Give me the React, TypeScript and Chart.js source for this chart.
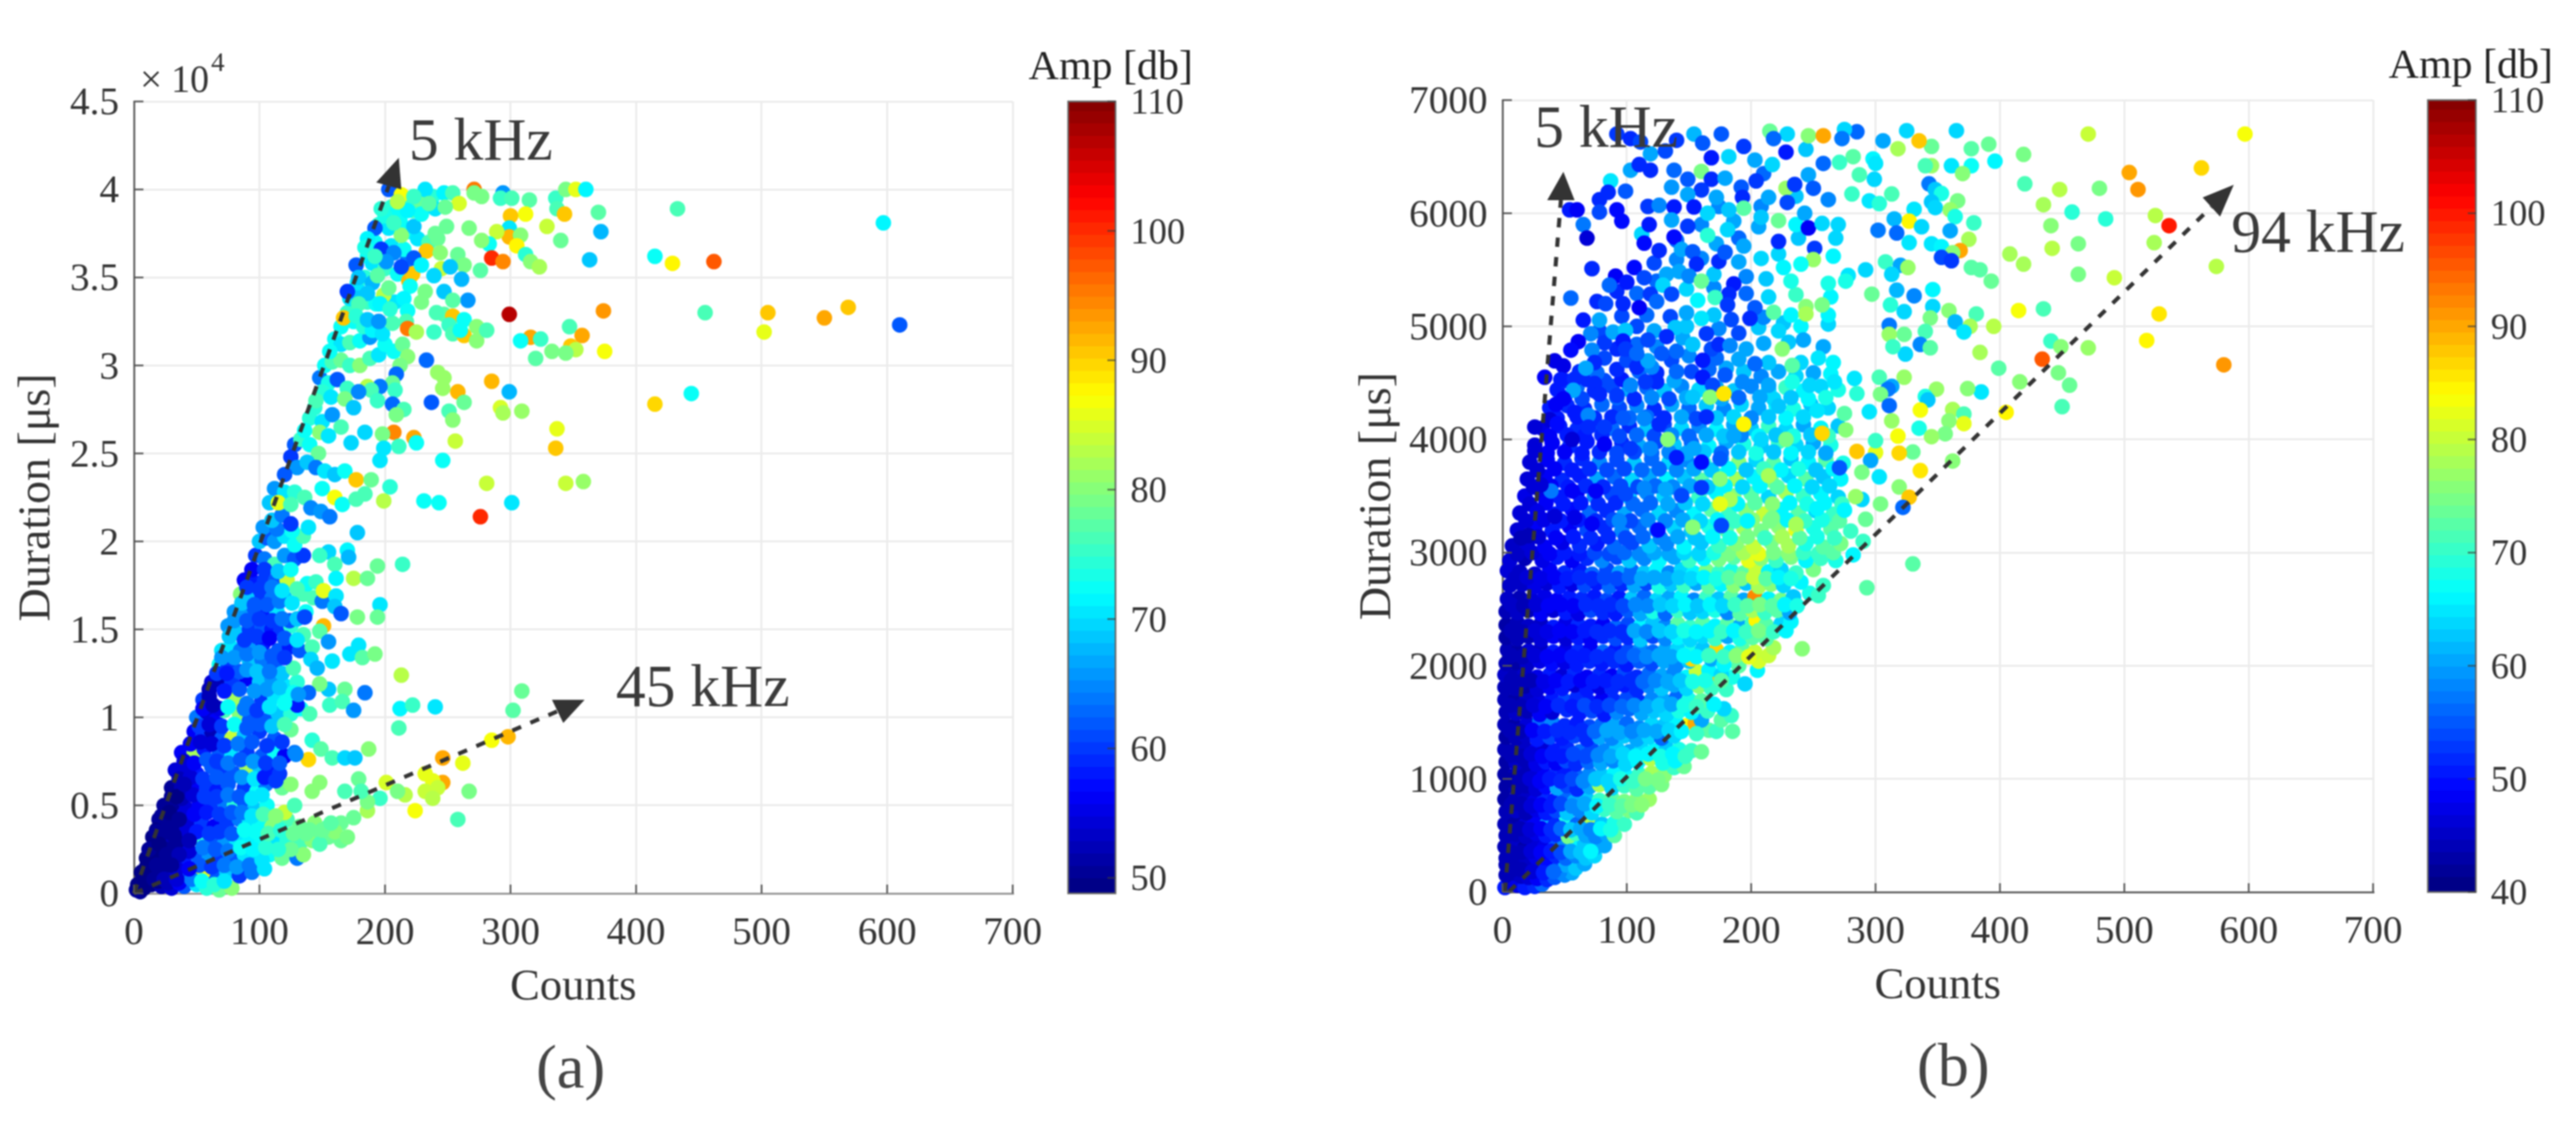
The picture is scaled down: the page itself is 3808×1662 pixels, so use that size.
import React, { useEffect, useRef } from "react";
import { Chart, registerables } from "chart.js";

Chart.register(...registerables);

// Every list below holds counts, duration, amplitude triples.
// Panel (a): duration in units of 10^4 microseconds, amplitude in dB.
const coreA = [
2,.02,50,5,.01,50,3,.05,49,8,.03,49,14,.05,49,22,.04,52,30,.03,54,40,.04,62,50,.05,70,58,.03,74,68,.02,78,78,.03,80,
6,.12,49,12,.1,49,20,.12,50,28,.1,54,38,.12,60,46,.14,66,64,.1,62,74,.12,68,84,.1,60,94,.12,64,104,.14,70,
10,.2,49,16,.22,49,24,.2,50,32,.18,52,40,.2,58,50,.22,62,60,.2,66,68,.22,60,78,.2,62,88,.22,70,98,.2,68,108,.22,72,118,.2,78,130,.2,64,
15,.32,49,22,.3,50,30,.28,52,38,.3,50,46,.32,56,54,.3,74,64,.3,62,72,.28,66,82,.3,70,92,.3,71,102,.3,72,112,.32,70,122,.3,74,132,.28,76,142,.3,80,155,.32,78,165,.3,78,
20,.42,50,28,.4,50,35,.38,50,44,.42,54,54,.4,60,64,.38,56,74,.4,60,84,.42,64,92,.42,70,100,.4,72,110,.38,80,122,.42,76,132,.38,78,144,.4,80,155,.38,76,165,.4,78,
24,.5,50,32,.5,50,42,.48,54,52,.5,56,62,.52,60,72,.52,64,80,.5,74,88,.52,62,96,.48,68,106,.5,72,120,.46,84,128,.5,76,
30,.6,50,38,.6,52,48,.62,56,58,.6,60,66,.58,58,75,.62,62,88,.6,60,98,.58,72,105,.62,64,118,.6,78,125,.62,80,
33,.7,54,40,.7,54,50,.68,58,62,.72,62,72,.7,60,80,.68,62,90,.72,82,100,.72,68,108,.7,58,116,.68,60,
38,.8,56,48,.8,82,56,.82,58,68,.8,62,78,.78,70,90,.8,60,102,.78,62,112,.8,72,120,.78,56,128,.8,64,
48,.92,56,55,.9,60,62,.92,52,70,.88,62,78,.88,84,88,.9,68,100,.92,60,112,.88,62,125,.93,78,
50,1,64,58,1.03,54,65,.98,56,72,1.04,76,84,1.02,80,92,.98,62,105,.98,62,115,1.02,68,125,1.02,74,133,1.05,72,140,1.02,76,
55,1.1,60,60,1.12,52,68,1.05,55,80,1.1,82,90,1.08,64,102,1.1,60,112,1.12,70,122,1.14,72,130,1.07,58,
62,1.2,54,68,1.22,52,78,1.2,60,90,1.22,56,100,1.2,68,110,1.22,66,120,1.18,70,130,1.2,74,
68,1.3,72,75,1.3,60,84,1.26,62,92,1.32,68,102,1.33,64,112,1.3,62,118,1.25,68,127,1.28,76,
70,1.38,70,77,1.4,70,85,1.38,64,93,1.42,66,103,1.42,58,115,1.38,62,124,1.4,58,132,1.38,62,142,1.4,76,
75,1.52,66,82,1.48,68,92,1.5,60,102,1.52,62,110,1.5,58,117,1.5,60,125,1.52,74,135,1.47,76,
80,1.6,66,88,1.6,66,96,1.62,62,106,1.58,58,114,1.6,70,124,1.55,62,137,1.6,72,
85,1.7,80,92,1.68,68,102,1.7,60,110,1.68,64,120,1.68,68,135,1.7,76,143,1.68,76,150,1.66,64,
88,1.78,56,95,1.77,58,104,1.78,60,113,1.78,62,122,1.78,84,138,1.76,72,145,1.77,75,
97,1.92,60,104,1.9,64,112,1.87,76,120,1.92,66,128,1.9,62,135,1.92,60,
100,2,68,106,2.02,62,112,2,66,120,2.03,70,128,1.98,72,135,2.03,76,
140,.36,78,150,.33,78,160,.35,80,148,.28,76,135,.22,80,125,.25,78,55,.12,86,
];
const fillA = [
9,.07,49,19,.07,49,27,.06,52,36,.06,56,46,.08,64,54,.07,72,64,.05,74,72,.07,70,
14,.15,49,23,.15,50,34,.14,54,52,.16,62,62,.15,60,72,.16,64,82,.15,66,92,.16,64,102,.19,70,
20,.24,49,28,.25,50,35,.26,50,44,.24,54,55,.26,64,65,.25,62,75,.24,64,85,.26,72,95,.25,71,105,.26,74,115,.25,74,
18,.36,49,25,.36,50,33,.35,50,42,.36,54,50,.35,58,60,.34,60,68,.35,60,78,.34,62,88,.36,72,97,.35,72,107,.34,76,117,.36,74,127,.34,78,137,.34,78,150,.36,78,
25,.45,50,33,.44,50,40,.45,54,48,.45,56,58,.46,58,68,.45,60,78,.46,62,86,.46,64,94,.44,70,103,.45,76,113,.44,80,
30,.55,50,38,.54,52,47,.56,54,56,.55,60,66,.55,60,75,.56,64,84,.55,62,94,.54,70,102,.56,70,
36,.65,52,45,.66,54,55,.65,60,66,.66,62,76,.65,62,86,.66,66,96,.65,70,104,.66,58,113,.64,60,
40,.75,54,48,.74,56,58,.76,62,66,.75,60,75,.74,64,85,.76,62,95,.75,66,105,.74,60,116,.74,62,
45,.85,56,53,.86,54,62,.85,54,72,.84,60,83,.85,64,94,.86,62,106,.84,60,118,.86,60,
52,.95,60,60,.96,54,70,.95,60,80,.96,72,90,.94,62,100,.96,62,110,.95,68,120,.96,76,
55,1.05,56,63,1.07,52,75,1.06,72,88,1.05,64,98,1.04,60,108,1.06,70,120,1.08,72,
60,1.16,52,72,1.15,58,84,1.16,62,96,1.15,66,106,1.16,66,116,1.17,68,127,1.14,72,
66,1.25,60,74,1.25,58,90,1.27,66,98,1.26,68,108,1.26,64,
70,1.34,66,80,1.34,66,90,1.36,64,100,1.37,66,110,1.35,62,120,1.34,60,
76,1.46,68,88,1.44,60,98,1.46,60,108,1.45,56,120,1.45,62,130,1.44,70,
80,1.55,66,90,1.55,62,100,1.56,60,110,1.55,60,118,1.56,64,130,1.56,68,
86,1.65,68,96,1.64,62,106,1.64,62,116,1.66,64,126,1.65,70,
90,1.74,60,100,1.73,60,110,1.74,64,118,1.72,70,130,1.73,76,
94,1.84,56,104,1.84,60,115,1.83,68,125,1.84,72,
103,2.08,66,114,2.07,64,126,2.06,72,
12,.25,50,18,.35,50,10,.15,49,26,.35,50,22,.44,50,34,.55,49,40,.62,52,28,.46,49,36,.42,50,32,.33,50,20,.28,49,18,.16,50,26,.22,50,44,.3,52,36,.22,52,44,.14,56,30,.16,50,16,.08,50,24,.08,52,34,.08,54,
];
const ridgeA = [
112,2.3,66,120,2.28,70,128,2.28,74,136,2.25,76,150,2.3,72,110,2.12,68,118,2.15,64,125,2.1,60,116,2.22,70,108,2.22,68,
128,2.55,62,133,2.58,75,140,2.55,72,147,2.5,78,125,2.48,60,130,2.42,66,138,2.45,68,145,2.42,64,152,2.4,70,160,2.38,68,168,2.4,72,177,2.35,90,120,2.38,62,
140,2.7,74,150,2.68,70,158,2.72,66,165,2.65,76,148,2.62,80,155,2.6,70,136,2.63,72,144,2.76,74,
148,2.93,64,155,2.9,73,162,2.92,62,170,2.87,75,150,2.85,74,145,2.8,76,157,2.82,70,
152,3,72,158,3.02,76,165,3.03,78,172,3,75,180,3,80,188,3.04,76,195,3.06,70,207,3.08,72,214,3.12,78,218,3.05,80,212,3,79,
160,3.15,72,165,3.12,70,172,3.13,76,180,3.14,72,188,3.16,66,156,3.08,72,200,3.12,72,
170,3.3,75,175,3.25,72,183,3.22,74,190,3.2,71,198,3.18,70,165,3.22,72,206,3.24,76,
172,3.38,70,178,3.4,68,186,3.36,75,193,3.35,72,208,3.36,70,178,3.47,70,184,3.5,74,
186,3.62,72,190,3.58,70,200,3.55,75,210,3.52,72,218,3.6,64,192,3.7,72,205,3.68,70,215,3.66,72,
195,3.8,74,203,3.78,70,212,3.82,72,220,3.76,72,226,3.72,70,235,3.7,76,242,3.72,78,
205,3.9,74,210,3.88,72,215,3.92,75,222,3.88,76,200,3.85,73,228,3.94,78,238,3.96,74,
];
const upperA = [
203,4,62,213,3.97,87,232,4,70,247,3.98,71,254,3.98,76,271,4,95,271,3.98,79,277,3.96,79,294,3.98,66,292,3.95,75,301,3.95,76,315,3.94,77,336,3.95,75,344,4,79,352,4,86,360,4,71,337,3.89,76,370,3.87,77,372,3.76,67,343,3.86,90,312,3.86,87,300,3.85,90,329,3.79,84,299,3.78,70,299,3.73,91,289,3.76,84,308,3.74,80,340,3.71,78,283,3.69,72,277,3.71,80,305,3.68,88,312,3.63,74,316,3.59,80,323,3.56,82,285,3.61,100,294,3.59,94,276,3.54,77,363,3.6,68,415,3.62,72,429,3.58,88,433,3.89,76,267,3.78,79,249,3.79,78,240,3.75,78,259,3.92,85,233,3.65,90,244,3.64,80,258,3.63,78,263,3.57,79,245,3.55,84,252,3.56,68,261,3.49,67,239,3.51,69,247,3.42,68,266,3.37,66,254,3.37,77,232,3.42,79,229,3.36,79,219,3.48,91,222,3.52,90,220,3.45,72,213,3.56,61,197,3.66,60,207,3.64,65,201,3.59,66,223,3.61,62,229,3.57,71,213,3.74,80,192,3.78,62,197,3.89,74,207,3.81,75,223,3.79,68,229,3.86,72,218,3.88,71,240,3.89,70,235,3.92,77,223,3.96,75,248,3.9,78,210,3.93,83,186,3.72,71,184,3.67,73,192,3.62,75,177,3.57,62,179,3.5,68,190,3.47,67,194,3.51,77,170,3.42,60,186,3.41,68,199,3.4,83,203,3.44,78,215,3.38,71,196,3.35,71,218,3.31,72,204,3.32,74,179,3.35,76,167,3.27,90,177,3.28,74,186,3.26,68,195,3.25,66,247,3.29,77,254,3.28,90,241,3.3,76,263,3.26,72,251,3.23,75,217,3.25,76,218,3.21,95,225,3.19,82,239,3.19,75,254,3.18,76,263,3.17,90,260,3.2,72,273,3.22,80,273,3.14,80,281,3.2,76,299,3.29,107,374,3.31,93,347,3.22,76,357,3.17,92,348,3.11,90,352,3.09,83,375,3.08,87,316,3.16,92,308,3.14,72,324,3.15,75,333,3.08,79,344,3.07,79,320,3.04,77,
285,2.91,91,299,2.85,67,258,2.85,91,263,2.79,78,246,2.87,81,242,2.96,81,247,2.93,81,237,2.79,62,233,3.03,63,209,2.95,63,206,2.9,78,208,2.86,75,196,2.88,64,186,2.88,83,189,2.86,76,179,2.85,65,194,2.8,75,168,2.81,79,175,2.76,68,206,2.78,63,215,2.75,76,209,2.72,79,251,2.74,76,254,2.69,80,292,2.76,85,294,2.73,82,309,2.74,81,415,2.78,89,337,2.64,86,336,2.53,90,223,2.59,92,207,2.62,94,198,2.61,79,184,2.62,69,173,2.56,69,199,2.53,70,211,2.54,75,225,2.56,72,256,2.57,84,246,2.46,72,196,2.46,70,
];
const outerA = [
276,2.14,100,231,2.23,72,243,2.22,72,301,2.22,70,281,2.33,84,344,2.33,84,358,2.34,81,199,2.23,83,204,2.31,74,189,2.35,78,160,2.25,87,166,2.21,72,177,2.24,76,184,2.27,76,115,2.22,86,125,2.21,76,141,2.19,65,149,2.17,66,156,2.14,64,139,2.08,70,178,2.05,68,170,1.95,71,155,1.94,69,171,1.91,67,148,1.92,75,160,1.87,76,194,1.86,78,214,1.87,75,161,1.79,71,175,1.79,83,186,1.79,78,151,1.72,86,161,1.69,70,196,1.64,70,160,1.63,68,165,1.59,62,178,1.57,79,194,1.57,78,136,1.57,61,151,1.52,91,148,1.49,77,155,1.43,66,179,1.41,70,172,1.36,70,182,1.34,77,192,1.36,79,158,1.32,70,141,1.33,69,146,1.28,67,213,1.24,83,309,1.15,78,184,1.14,64,168,1.16,78,155,1.16,68,148,1.19,79,139,1.14,63,131,1.13,66,156,1.07,75,166,1.09,76,175,1.04,66,212,1.05,71,222,1.07,75,240,1.06,70,302,1.04,77,211,.94,76,298,.89,91,285,.87,87,142,.87,74,149,.82,77,187,.82,80,139,.76,89,129,.79,65,158,.77,76,168,.77,69,176,.77,68,246,.77,92,262,.74,86,201,.63,85,246,.63,92,232,.68,86,238,.64,86,242,.6,84,232,.58,84,238,.54,83,267,.58,79,216,.56,83,210,.58,79,224,.47,87,258,.42,76,196,.54,75,186,.47,82,186,.52,79,179,.65,78,181,.58,76,168,.58,76,175,.43,78,170,.32,79,157,.4,77,148,.63,80,142,.58,80,
];
const farA = [
455,3.3,76,505,3.3,90,502,3.19,86,550,3.27,92,569,3.33,90,610,3.23,62,462,3.59,97,597,3.81,71,444,2.84,72,
];

// Panel (b): duration in microseconds, amplitude in dB.
const lowB = [
2,40,50,6,90,46,12,60,47,18,40,50,26,50,52,32,70,56,3,150,44,9,170,44,15,140,45,21,130,46,28,120,48,36,110,52,42,130,55,50,150,58,56,170,60,46,180,58,
3,240,44,11,250,44,19,230,45,27,220,47,35,240,50,43,220,54,51,240,60,59,210,62,66,250,60,
3,300,44,11,320,44,19,300,45,27,310,47,35,290,49,43,320,52,51,300,56,59,320,58,67,300,62,74,320,64,
2,400,44,10,410,45,18,390,43,26,420,46,34,400,47,42,390,55,50,410,58,58,400,66,66,420,62,74,390,60,82,410,60,
3,500,44,11,510,44,19,490,45,27,520,47,35,500,50,43,510,52,53,490,74,59,520,70,67,500,60,75,490,58,84,510,60,90,500,72,
2,600,44,10,610,43,18,590,46,26,620,48,35,590,60,43,610,52,51,675,68,60,600,56,72,625,79,80,600,62,90,610,68,98,600,70,
3,710,44,11,720,45,19,700,44,27,730,47,35,700,50,43,720,54,52,700,62,62,720,58,72,700,64,82,730,70,92,710,72,102,720,74,108,700,71,
2,820,43,10,810,44,18,830,45,26,800,47,34,820,52,42,810,50,50,830,56,58,800,60,68,820,62,78,810,70,88,830,72,98,800,74,108,820,76,118,820,77,
3,930,43,11,920,44,19,940,44,27,910,46,35,930,49,44,920,60,52,940,54,60,910,52,70,930,60,78,950,78,88,920,64,98,940,70,108,910,72,118,930,72,128,950,74,
2,1040,43,10,1030,44,18,1050,44,26,1020,46,34,1040,48,42,1030,52,50,1050,50,60,1020,56,70,1040,58,80,1030,62,90,1050,66,100,1020,66,110,1040,70,120,1050,78,130,1030,76,138,1100,70,146,1110,73,
3,1150,43,11,1140,45,19,1160,44,27,1130,47,35,1150,50,43,1140,48,51,1160,54,59,1130,52,69,1150,56,79,1140,60,89,1160,58,99,1130,64,109,1150,66,119,1180,79,129,1140,68,139,1160,66,
2,1260,44,10,1250,44,18,1270,45,26,1240,48,34,1260,46,42,1250,50,52,1270,52,62,1240,56,72,1260,54,82,1250,58,92,1270,62,102,1240,60,112,1260,64,122,1250,66,132,1270,62,142,1260,68,152,1250,70,160,1240,73,
3,1370,43,11,1360,44,19,1380,45,28,1350,50,38,1370,54,48,1360,50,58,1380,54,68,1350,52,78,1370,60,88,1360,58,98,1380,62,108,1350,60,118,1370,64,128,1360,56,138,1380,64,148,1470,84,155,1490,90,166,1430,72,172,1420,70,185,1420,72,
2,1480,44,10,1470,43,20,1490,46,30,1510,56,40,1500,58,50,1470,52,60,1490,50,70,1460,54,80,1480,56,90,1470,60,100,1490,56,110,1450,58,120,1480,64,130,1470,62,140,1490,66,160,1520,60,176,1520,72,184,1560,70,
3,1590,44,11,1580,45,20,1600,44,30,1570,48,40,1590,46,52,1610,52,62,1580,50,72,1600,54,82,1570,50,92,1590,58,102,1620,56,112,1580,60,122,1600,62,132,1570,64,142,1600,68,152,1590,66,165,1600,70,178,1620,64,
2,1700,44,10,1690,43,20,1710,45,30,1680,47,40,1700,50,50,1690,54,60,1720,52,70,1680,50,80,1700,48,90,1690,52,100,1710,54,110,1680,52,120,1700,58,130,1690,60,140,1720,56,150,1700,68,160,1690,72,170,1860,88,180,1790,70,
2,1810,44,10,1800,44,18,1820,43,28,1790,46,38,1810,48,48,1800,50,58,1830,46,68,1790,50,78,1810,47,88,1800,52,98,1830,50,108,1790,52,118,1820,58,128,1800,62,138,1830,60,148,1800,64,158,1820,76,168,1800,70,185,1900,68,195,1840,64,
2,1920,45,10,1910,44,18,1930,45,28,1900,47,38,1920,50,48,1910,46,58,1940,52,68,1900,48,78,1920,52,88,1910,48,98,1940,54,108,1900,52,118,1930,56,128,1910,60,138,1940,58,148,1900,66,156,1950,80,166,1960,66,176,1920,64,190,2000,72,205,1960,66,
3,2020,44,11,2030,43,20,2010,45,30,2040,47,40,2020,49,50,2030,47,60,2010,50,70,2040,52,80,2020,50,90,2040,52,100,2010,50,110,2040,55,120,2020,54,130,2040,60,140,2010,58,150,2040,62,152,2060,86,168,2060,60,178,2010,66,190,2050,72,206,2040,81,214,2090,80,
4,2140,44,12,2120,43,21,2130,46,31,2150,45,41,2120,50,51,2140,47,61,2130,52,71,2150,48,81,2120,56,91,2140,50,101,2130,54,111,2150,58,121,2120,56,131,2140,60,141,2150,64,151,2120,68,161,2150,62,172,2140,87,183,2120,66,193,2150,72,203,2120,80,218,2160,78,241,2150,76,
3,2250,43,12,2240,44,21,2260,44,31,2230,46,41,2260,48,51,2240,46,61,2250,50,71,2230,48,81,2260,52,91,2240,54,101,2250,52,111,2230,62,121,2260,54,131,2240,58,141,2250,66,151,2230,64,161,2260,64,171,2240,70,181,2260,60,191,2240,68,201,2250,72,212,2240,72,
3,2360,43,12,2380,44,21,2350,45,31,2370,45,41,2340,50,51,2380,47,61,2360,52,71,2350,50,81,2370,48,91,2340,56,101,2370,54,111,2350,66,121,2380,62,131,2350,58,141,2370,72,151,2340,70,161,2380,72,171,2350,66,181,2370,72,191,2350,60,201,2380,70,204,2400,84,212,2360,72,224,2370,64,232,2390,66,
3,2480,44,12,2470,45,21,2490,44,31,2460,48,41,2490,46,51,2470,50,61,2460,47,71,2490,54,81,2470,52,91,2460,50,101,2490,55,111,2460,60,121,2480,68,131,2460,56,141,2490,70,151,2470,62,161,2480,64,171,2490,68,181,2470,58,191,2460,72,201,2490,78,211,2470,70,221,2490,72,231,2470,60,
4,2590,45,14,2600,44,24,2580,46,34,2610,47,44,2580,48,54,2600,50,64,2590,52,74,2610,50,84,2580,54,94,2600,50,104,2590,62,114,2610,56,124,2580,64,134,2600,60,144,2610,66,154,2580,58,164,2600,70,174,2590,62,184,2610,72,194,2580,60,203,2610,92,214,2590,66,224,2580,74,234,2610,62,247,2640,68,254,2620,70,
6,2710,45,16,2720,45,26,2700,47,36,2730,46,46,2700,50,56,2720,47,66,2710,54,76,2730,50,86,2700,56,96,2720,52,106,2710,60,116,2730,54,126,2700,68,136,2720,62,146,2710,70,156,2730,60,166,2700,72,176,2720,66,186,2710,76,196,2730,62,206,2700,78,216,2720,76,226,2710,64,240,2740,66,258,2710,70,
4,2840,46,14,2830,45,26,2810,46,38,2850,48,50,2820,52,62,2840,50,72,2810,56,84,2850,54,94,2820,60,104,2840,56,114,2820,62,124,2850,66,134,2820,58,144,2850,64,154,2820,66,164,2840,74,174,2820,70,184,2840,68,194,2820,72,204,2850,80,214,2830,66,224,2850,64,236,2820,70,250,2850,74,293,2690,72,
6,2930,46,18,2950,44,32,2930,47,44,2960,50,56,2930,48,68,2950,52,80,2930,58,92,2960,54,102,2930,62,114,2950,58,126,2930,66,138,2960,60,150,2930,70,162,2950,66,174,2940,74,186,2960,72,198,2930,82,208,2950,76,220,2930,70,232,2960,74,244,2930,66,256,2950,70,268,2930,68,282,2980,66,330,2900,72,
];
const lowFillB = [
7,190,44,15,200,44,24,180,46,33,170,50,41,180,56,7,350,44,15,350,44,23,360,46,31,350,48,39,360,50,47,350,54,55,360,60,63,350,62,71,360,66,
6,550,44,14,560,44,22,550,46,31,560,48,39,550,52,47,560,56,55,550,62,63,560,60,71,550,58,79,560,66,87,550,68,
7,770,44,15,780,44,23,760,46,31,770,48,39,760,50,47,780,54,56,760,58,66,780,60,76,760,66,86,770,70,96,760,72,104,770,74,112,770,76,
6,990,43,14,980,44,22,1000,46,30,980,48,38,1000,50,47,980,52,56,1000,54,65,980,58,75,1000,62,85,980,64,95,1000,68,105,980,70,115,1000,74,125,990,74,
7,1210,44,15,1200,44,23,1220,46,32,1200,48,40,1220,50,48,1200,50,57,1220,54,67,1200,54,77,1210,58,87,1200,60,97,1220,64,107,1200,66,117,1220,66,127,1200,68,137,1220,66,147,1200,70,
6,1430,44,14,1420,44,24,1430,48,34,1420,50,44,1430,52,54,1410,52,64,1430,52,74,1420,56,84,1430,60,94,1410,60,104,1420,58,114,1430,60,124,1420,60,134,1430,64,144,1420,66,156,1400,70,
6,1650,44,15,1640,44,25,1650,46,35,1640,48,45,1650,52,56,1640,50,66,1650,54,76,1640,52,86,1650,54,96,1640,56,106,1650,58,116,1640,60,126,1650,62,136,1660,60,146,1650,68,156,1640,70,170,1660,66,
7,1870,44,15,1860,44,23,1870,44,33,1860,47,43,1870,48,53,1860,50,63,1870,48,73,1860,50,83,1870,50,93,1860,52,103,1870,52,113,1860,56,123,1870,58,133,1860,60,143,1870,62,153,1860,68,163,1870,68,176,1870,72,
7,2090,44,16,2080,44,26,2090,46,36,2080,48,46,2090,48,56,2080,50,66,2090,50,76,2080,52,86,2090,52,96,2080,54,106,2090,56,116,2080,58,126,2090,60,136,2080,60,146,2090,66,156,2080,66,166,2090,70,178,2080,70,188,2090,76,198,2080,82,
7,2310,44,16,2300,44,26,2310,46,36,2300,47,46,2310,48,56,2300,48,66,2310,50,76,2300,52,86,2310,52,96,2300,52,106,2310,60,116,2300,58,126,2310,62,136,2300,64,146,2310,68,156,2300,66,166,2310,66,176,2300,70,186,2310,66,196,2300,70,206,2310,74,218,2300,70,228,2310,66,
7,2540,45,17,2530,44,27,2540,46,37,2530,48,47,2540,48,57,2530,48,67,2540,52,77,2530,52,87,2540,52,97,2530,54,107,2540,58,117,2530,58,127,2540,62,137,2530,64,147,2540,66,157,2530,62,167,2540,66,177,2530,64,187,2540,70,197,2530,72,207,2540,74,217,2530,72,227,2540,66,237,2530,68,
10,2770,45,20,2780,46,31,2770,47,42,2780,48,52,2770,50,62,2780,52,72,2770,52,82,2780,54,92,2770,54,102,2780,56,112,2770,60,122,2780,60,132,2770,60,142,2780,62,152,2770,64,162,2780,66,172,2770,68,182,2780,72,192,2770,74,202,2780,80,212,2770,72,222,2780,66,232,2770,68,
12,2990,45,24,3000,46,38,2990,48,50,3000,50,62,2990,50,74,3000,54,86,2990,54,98,3000,56,110,2990,58,122,3000,60,134,2990,60,146,3000,64,158,2990,64,170,3000,68,182,2990,74,194,3000,78,206,2990,82,218,3000,74,230,2990,76,242,3000,70,254,2990,70,266,3000,72,
];
const midB = [
8,3060,45,20,3080,46,34,3050,48,48,3090,47,62,3060,52,76,3080,50,90,3050,56,104,3090,54,118,3060,62,132,3080,58,146,3050,66,160,3090,62,174,3060,70,188,3080,76,202,3050,80,216,3090,74,230,3060,78,244,3080,68,258,3050,72,272,3080,74,290,3100,70,
12,3200,46,26,3220,48,40,3190,50,54,3230,48,68,3200,54,82,3220,52,96,3190,58,110,3230,56,124,3200,60,138,3220,64,152,3190,62,166,3230,68,180,3200,72,194,3220,78,208,3190,74,222,3230,76,236,3200,82,250,3220,68,264,3210,72,280,3190,70,
14,3350,46,28,3370,48,42,3340,50,56,3380,49,70,3350,56,84,3370,52,98,3340,60,112,3380,56,126,3350,64,140,3370,58,154,3340,66,168,3380,72,182,3350,70,196,3370,76,210,3340,80,224,3380,66,238,3350,72,252,3370,64,266,3340,70,
18,3500,47,32,3520,47,46,3490,50,60,3530,48,74,3500,58,88,3520,54,102,3490,62,116,3530,58,130,3500,64,144,3520,60,158,3490,70,172,3530,66,186,3500,76,200,3520,72,214,3490,64,228,3530,78,242,3500,70,256,3520,66,270,3490,64,
20,3650,46,34,3670,48,48,3640,52,62,3680,50,76,3650,60,90,3670,56,104,3640,64,118,3680,60,132,3650,66,146,3670,62,160,3640,72,174,3680,68,188,3650,78,202,3670,66,216,3640,74,230,3680,64,244,3650,72,258,3670,62,272,3650,66,
22,3800,46,36,3820,48,50,3790,51,64,3830,52,78,3800,58,92,3820,54,106,3790,62,120,3830,56,134,3800,64,148,3820,58,162,3790,70,176,3830,62,190,3800,76,204,3820,64,218,3790,72,232,3830,62,246,3800,66,260,3820,72,274,3790,68,
26,3950,46,40,3970,48,54,3940,52,68,3980,50,82,3950,56,96,3970,52,110,3940,60,124,3980,54,138,3950,62,152,3970,56,166,3940,66,180,3980,60,194,3960,68,208,3940,62,222,3980,70,236,3950,64,250,3970,60,264,3950,68,
32,4100,47,46,4120,50,60,4090,52,74,4130,54,88,4100,56,102,4120,52,116,4090,62,130,4130,54,144,4100,64,158,4120,58,172,4090,66,186,4130,60,200,4100,62,214,4120,70,228,4090,64,242,4130,60,256,4100,66,270,4120,62,
38,4280,50,52,4300,52,66,4270,52,80,4310,56,94,4280,54,108,4300,58,122,4270,52,136,4310,60,150,4280,56,164,4300,62,178,4270,58,192,4310,64,206,4280,60,220,4300,66,234,4270,68,248,4310,62,262,4280,64,
44,4440,50,60,4460,56,74,4430,52,88,4470,54,102,4440,60,116,4460,56,130,4430,62,144,4470,58,158,4440,64,172,4460,60,186,4430,62,200,4470,58,214,4440,64,228,4460,70,242,4430,66,256,4470,64,270,4440,68,
];
const midFillB = [
15,3130,44,29,3140,46,43,3130,48,57,3140,50,71,3130,52,85,3140,52,99,3130,54,113,3140,56,127,3130,58,141,3140,60,155,3130,62,169,3140,66,183,3130,68,197,3140,74,211,3130,70,225,3140,78,239,3130,72,253,3140,68,267,3130,70,
19,3280,46,33,3290,47,47,3280,50,61,3290,50,75,3280,52,89,3290,54,103,3280,54,117,3290,58,131,3280,58,145,3290,60,159,3280,64,173,3290,66,187,3280,70,201,3290,76,215,3280,74,229,3290,66,243,3280,70,257,3290,68,271,3280,72,
22,3430,46,35,3440,48,49,3430,50,63,3440,50,77,3430,52,91,3440,52,105,3430,56,119,3440,56,133,3430,60,147,3440,62,161,3430,64,175,3440,68,189,3430,66,203,3440,72,217,3430,76,231,3440,66,245,3430,68,259,3440,66,273,3430,70,
25,3580,46,39,3590,48,53,3580,50,67,3590,52,81,3580,52,95,3590,54,109,3580,54,123,3590,56,137,3580,58,151,3590,60,165,3580,62,179,3590,66,193,3580,64,207,3590,66,221,3580,72,235,3590,66,249,3580,64,263,3590,64,
28,3730,46,42,3740,48,56,3730,50,70,3740,52,84,3730,54,98,3740,54,112,3730,56,126,3740,56,140,3730,58,154,3740,60,168,3730,62,182,3740,66,196,3730,62,210,3740,70,224,3730,66,238,3740,68,252,3730,62,266,3740,66,
36,3880,48,50,3890,48,64,3880,50,78,3890,52,92,3880,54,106,3890,54,120,3880,56,134,3890,58,148,3880,60,162,3890,62,176,3880,56,190,3890,62,204,3880,68,218,3890,62,232,3880,66,246,3890,64,260,3880,60,
38,4030,48,52,4040,50,66,4030,50,80,4040,52,94,4030,54,108,4040,56,122,4030,54,136,4040,58,150,4030,56,164,4040,60,178,4030,62,192,4040,58,206,4030,66,220,4040,62,234,4030,68,248,4040,62,262,4030,70,
44,4190,50,60,4200,50,74,4190,52,88,4200,52,102,4190,56,116,4200,56,130,4190,52,144,4200,60,172,4190,62,186,4200,64,200,4190,58,214,4200,62,228,4190,66,242,4200,64,
50,4370,50,64,4360,54,92,4370,56,106,4360,52,120,4370,58,134,4360,54,148,4370,60,176,4360,60,190,4370,56,218,4360,64,232,4370,62,246,4360,66,260,4370,68,
50,4520,52,68,4530,52,82,4520,54,96,4530,50,110,4600,56,124,4590,52,138,4520,60,152,4600,54,166,4620,56,180,4630,60,194,4600,62,208,4560,58,222,4600,60,236,4560,64,250,4590,60,264,4580,66,
62,4600,52,76,4590,56,92,4620,52,100,4700,54,120,4640,58,136,4700,54,150,4740,58,172,4720,56,190,4710,60,214,4680,62,240,4680,64,266,4680,66,
82,4720,54,92,4800,52,108,4840,56,124,4820,58,140,4780,56,145,4900,60,168,4800,54,196,4800,60,210,4850,60,230,4860,62,258,4820,60,
78,4960,54,108,5000,54,122,4960,60,148,5000,62,174,4980,58,190,4940,54,206,4990,62,226,5030,62,240,5000,66,262,5020,64,
96,5090,54,116,5100,56,148,5120,60,170,5100,62,184,5060,54,210,5080,58,232,5100,66,262,5100,66,
92,5310,52,108,5290,56,148,5330,64,170,5340,58,196,5290,56,214,5260,64,236,5280,70,264,5260,66,
124,5400,56,132,5460,60,170,5460,62,196,5440,58,212,5420,62,232,5400,68,262,5380,68,
122,5560,54,140,5590,58,160,5600,58,190,5570,60,222,5640,64,266,5620,66,
140,5760,56,172,5730,60,190,5780,56,238,5780,62,268,5780,64,
160,5900,58,186,5930,60,206,5880,60,236,5900,66,270,5900,64,
174,6060,58,208,6060,58,236,6150,62,262,6120,58,
210,6350,56,246,6340,60,258,6440,56,
];
const upperB = [
92,6700,53,103,6660,52,111,6630,54,119,6525,60,131,6550,54,140,6645,53,154,6700,61,161,6620,55,176,6700,55,168,6490,50,194,6590,53,182,6500,64,215,6725,73,229,6700,64,218,6660,56,244,6565,62,246,6685,75,258,6685,90,228,6540,50,217,6430,63,203,6470,60,103,6380,60,110,6430,52,119,6380,52,87,6285,65,99,6195,55,85,6185,51,78,6120,52,78,6010,54,92,6030,49,96,5930,49,54,6030,50,60,6030,48,65,5900,57,68,5780,46,112,5815,63,114,5735,49,126,5670,52,118,5900,50,117,6060,53,126,6070,58,138,6055,50,136,6230,59,138,6380,56,160,6370,74,149,6300,55,168,6300,51,179,6310,60,192,6230,55,204,6285,53,160,6205,53,149,6165,60,154,6055,50,165,6000,63,172,6140,60,193,6140,52,194,6045,72,182,6030,62,208,5965,62,214,6140,60,228,6220,77,235,6255,53,250,6220,55,229,6095,54,222,5935,73,243,6000,60,246,5870,48,257,5910,63,222,5750,52,136,5940,60,149,5885,53,138,5790,49,144,5680,60,153,5660,55,165,5805,69,181,5855,63,174,5575,51,156,5550,52,179,5655,55,194,5710,60,208,5600,64,226,5520,66,251,5690,53,250,5590,77,240,5550,67,72,5510,52,106,5520,49,91,5445,48,86,5365,56,100,5390,50,114,5430,54,55,5250,56,76,5220,52,83,5200,54,97,5200,52,110,5165,48,119,5285,53,129,5365,64,136,5285,54,142,5485,60,150,5445,58,160,5400,73,186,5375,50,182,5285,51,157,5230,66,171,5255,70,181,5190,53,203,5165,55,199,5070,51,135,5085,54,124,5220,56,139,4990,62,160,5070,65,65,5055,50,78,5055,60,71,4935,58,61,4865,48,55,4790,49,82,4855,53,89,4950,60,99,4965,62,97,4870,50,99,4800,53,72,4790,58,74,4680,51,67,4630,60,42,4695,47,49,4650,47,34,4550,48,47,4530,50,58,4535,52,57,4435,60,49,4360,48,43,4310,48,38,4175,46,44,4140,49,26,4110,46,26,3900,46,58,4240,50,69,4215,58,74,4495,52,78,4400,52,92,4390,53,108,4640,51,117,4695,60,128,4760,55,132,4910,51,117,4880,54,108,4760,56,124,4510,51,115,4510,53,103,4480,58,140,4600,56,161,4700,50,161,4550,50,153,4840,62,174,4840,51,164,4935,53,183,4830,58,179,4570,55,193,4510,58,203,4670,56,225,4800,76,233,4655,72,222,4960,64,218,5125,72,244,5175,76,244,5110,78,257,5190,74,242,4880,60,254,4720,65,247,4480,64,233,4510,68,214,4480,60,169,4480,54,167,4375,76,178,4405,85,153,4375,62,207,4375,60,222,4295,62,253,4255,65,194,4135,84,257,4055,86,133,4000,76,156,4185,54,164,4200,51,126,4135,52,114,4185,58,97,4190,55,82,3960,48,56,4000,46,69,4110,52,82,4110,53,103,3920,53,119,3920,58,140,3840,50,160,3800,49,154,3920,60,175,3830,55,186,4030,60,208,4000,64,228,4000,74,214,3680,78,175,3650,76,183,3470,78,175,3430,82,160,3575,53,144,3505,54,131,3560,60,114,3570,58,99,3520,54,75,3545,48,56,3545,48,39,3545,57,31,3600,46,28,3360,47,42,3320,46,21,3150,44,58,3310,47,72,3255,48,94,3280,58,125,3200,49,153,3225,76,176,3240,54,197,3280,66,217,3305,74,236,3250,78,253,3390,66,
];
const outerB = [
597,6700,83,471,6700,80,562,6400,87,504,6360,90,511,6210,91,480,6220,74,448,6210,79,420,6260,71,435,6075,78,458,6010,69,485,5950,69,525,5980,79,536,5890,100,441,5890,75,442,5690,79,463,5730,74,524,5740,78,408,5640,78,419,5550,78,463,5460,74,492,5430,80,574,5530,79,393,5400,73,384,5500,72,377,5520,72,419,6520,74,391,6610,73,377,6570,72,396,6460,66,377,6420,67,361,6420,65,365,6730,63,345,6590,73,335,6640,88,318,6570,78,306,6640,60,325,6730,64,285,6720,56,275,6740,63,273,6660,57,345,6420,77,370,6350,76,340,6420,71,282,6500,72,298,6480,66,300,6440,65,271,6450,70,287,6340,71,299,6300,63,343,6260,57,348,6210,62,353,6175,68,313,6170,71,366,6110,74,281,6170,70,295,6110,65,303,6085,69,331,6035,65,345,6100,62,348,6050,64,360,6030,77,364,5970,68,379,5915,70,327,5930,84,315,5950,61,337,5880,63,317,5825,56,302,5850,57,360,5845,60,375,5770,78,327,5740,65,345,5730,65,353,5705,66,368,5670,90,362,5650,76,353,5610,54,361,5580,53,308,5570,70,320,5540,60,326,5520,77,313,5460,64,292,5500,64,278,5450,65,276,5400,68,346,5325,66,317,5320,61,331,5270,58,297,5285,73,312,5190,69,346,5175,63,359,5140,76,381,5110,71,415,5140,83,435,5155,71,528,5110,85,395,5000,79,364,5040,61,376,5000,78,371,4950,65,344,5075,74,323,5130,64,323,4930,73,311,5010,57,311,4930,77,340,4955,71,336,4840,58,344,4810,72,324,4755,63,314,4820,70,384,4770,78,399,4630,72,441,4870,70,449,4820,76,471,4810,77,518,4875,84,434,4710,95,580,4660,91,447,4590,74,416,4510,76,456,4480,73,450,4290,71,405,4240,84,385,4420,65,374,4450,75,349,4445,77,340,4380,68,342,4350,62,323,4550,77,303,4550,71,283,4540,65,267,4510,65,313,4470,60,310,4445,57,304,4400,74,311,4300,56,295,4245,65,285,4405,69,336,4260,83,362,4265,78,371,4225,71,371,4140,82,359,4165,76,335,4100,68,356,4050,74,345,4025,77,330,3890,73,319,3880,86,362,3810,75,336,3725,85,319,3580,75,327,3490,88,322,3400,56,304,3430,74,303,3670,65,285,3895,88,300,3885,82,296,3815,60,271,3750,55,289,3710,74,289,3470,64,292,3295,73,275,3375,66,284,3495,77,313,4165,77,318,4030,83,300,3990,70,276,4085,76,275,4230,72,
];

const countTicksMax = 700;
const rangeA = { durationMax: 4.5, durationStep: 0.5, ampMin: 48.8, ampMax: 110 };
const rangeB = { durationMax: 7000, durationStep: 1000, ampMin: 40, ampMax: 110 };

const arrowLineA5 = [[0, 0], [203, 4.02]];
const arrowHeadA5 = [[211, 4.18], [193, 4.04], [213, 4.0]];
const arrowLineA45 = [[0, 0], [337, 1.034]];
const arrowHeadA45 = [[359, 1.1], [333, 1.1], [342, 0.968]];
const arrowLineB5 = [[2, 0], [47, 6115]];
const arrowHeadB5 = [[49, 6366], [36, 6115], [58, 6115]];
const arrowLineB94 = [[5, 0], [570, 6055]];
const arrowHeadB94 = [[588, 6252], [563, 6139], [577, 5971]];

const SERIF = '"Liberation Serif", "Times New Roman", serif';
const DARK = "#333333";

function jet(v: number, lo: number, hi: number) {
  const levels = 64;
  const k = Math.min(levels - 1, Math.max(0, Math.floor(((v - lo) / (hi - lo)) * levels)));
  const t = (k + 0.5) / levels;
  const c = (x: number) => Math.round(255 * Math.min(1, Math.max(0, x)));
  return `rgb(${c(1.5 - Math.abs(4 * t - 3))},${c(1.5 - Math.abs(4 * t - 2))},${c(1.5 - Math.abs(4 * t - 1))})`;
}

function points(lists: number[][]) {
  const out: { x: number; y: number; a: number }[] = [];
  for (const list of lists) {
    for (let i = 0; i + 2 < list.length; i += 3) out.push({ x: list[i], y: list[i + 1], a: list[i + 2] });
  }
  return out;
}

function lineSet(data: number[][]) {
  return {
    data: data.map(([x, y]) => ({ x, y })),
    showLine: true,
    pointRadius: 0,
    borderColor: DARK,
    borderWidth: 6,
    borderDash: [14, 15],
    clip: false,
  };
}

function zeroPadding(s: any) {
  s.paddingLeft = 0;
  s.paddingRight = 0;
  s.paddingTop = 0;
  s.paddingBottom = 0;
}

function scatterChart(canvas: HTMLCanvasElement, o: any) {
  const pts = points(o.lists);
  const overlay = {
    id: "overlay",
    afterDatasetsDraw(chart: any) {
      const { ctx, scales } = chart;
      const x = scales.x;
      const y = scales.y;
      ctx.save();
      ctx.strokeStyle = "#555";
      ctx.lineWidth = 2.5;
      y.ticks.forEach((t: any) => {
        const p = y.getPixelForValue(t.value);
        ctx.beginPath();
        ctx.moveTo(x.left, p);
        ctx.lineTo(x.left + 14, p);
        ctx.stroke();
      });
      x.ticks.forEach((t: any) => {
        const p = x.getPixelForValue(t.value);
        ctx.beginPath();
        ctx.moveTo(p, y.bottom);
        ctx.lineTo(p, y.bottom - 13);
        ctx.stroke();
      });
      ctx.fillStyle = DARK;
      o.heads.forEach((h: number[][]) => {
        ctx.beginPath();
        h.forEach(([a, b], i) => {
          const px = x.getPixelForValue(a);
          const py = y.getPixelForValue(b);
          if (i === 0) ctx.moveTo(px, py);
          else ctx.lineTo(px, py);
        });
        ctx.closePath();
        ctx.fill();
      });
      ctx.fillStyle = "#3a3a3a";
      ctx.textBaseline = "alphabetic";
      ctx.textAlign = "left";
      ctx.font = `88px ${SERIF}`;
      o.labels.forEach((l: any) => {
        ctx.fillText(l.text, x.getPixelForValue(l.x), y.getPixelForValue(l.y));
      });
      ctx.textAlign = "center";
      ctx.font = `92px ${SERIF}`;
      ctx.fillStyle = "#444";
      ctx.fillText(o.caption, (x.left + x.right) / 2 + o.captionShift, y.bottom + o.captionDrop);
      if (o.multiplier) {
        ctx.textAlign = "left";
        ctx.fillStyle = DARK;
        ctx.font = `58px ${SERIF}`;
        ctx.fillText("×", x.left + 9, y.top - 14);
        ctx.font = `56px ${SERIF}`;
        ctx.fillText("10", x.left + 55, y.top - 14);
        ctx.font = `40px ${SERIF}`;
        ctx.fillText("4", x.left + 114, y.top - 45);
      }
      ctx.restore();
    },
  };
  return new Chart(canvas, {
    type: "scatter",
    data: {
      datasets: [
        ...o.lines.map(lineSet),
        {
          data: pts,
          pointRadius: 11.5,
          pointHoverRadius: 11.5,
          pointBorderWidth: 0,
          pointBackgroundColor: pts.map((p) => jet(p.a, o.range.ampMin, o.range.ampMax)),
          clip: false,
        },
      ],
    },
    options: {
      animation: false,
      responsive: false,
      devicePixelRatio: 1,
      layout: { padding: o.padding },
      plugins: { legend: { display: false }, tooltip: { enabled: false } },
      scales: {
        x: {
          type: "linear",
          min: 0,
          max: countTicksMax,
          afterFit(s: any) {
            s.height = 179;
            zeroPadding(s);
          },
          ticks: { stepSize: 100, maxRotation: 0, padding: 25, color: DARK, font: { family: SERIF, size: 58 } },
          grid: { color: "#ececec", lineWidth: 3, drawTicks: false },
          border: { color: o.xBorder, width: 3 },
          title: { display: true, text: "Counts", color: DARK, font: { family: SERIF, size: 66 }, padding: 0 },
        },
        y: {
          type: "linear",
          min: 0,
          max: o.range.durationMax,
          afterFit(s: any) {
            s.width = o.yWidth;
            zeroPadding(s);
          },
          ticks: {
            stepSize: o.range.durationStep,
            padding: 22,
            labelOffset: 4,
            color: DARK,
            font: { family: SERIF, size: 58 },
            callback: (v: any) => String(v),
          },
          grid: { color: "#ececec", lineWidth: 3, drawTicks: false },
          border: { color: "#666", width: 3 },
          title: {
            display: true,
            text: "Duration [μs]",
            color: DARK,
            font: { family: SERIF, size: 68 },
            padding: { top: o.yTitlePad, bottom: 0 },
          },
        },
      },
    } as any,
    plugins: [overlay],
  } as any);
}

function colorbarChart(canvas: HTMLCanvasElement, o: any) {
  const levels = 64;
  const step = (o.range.ampMax - o.range.ampMin) / levels;
  const bands = Array.from({ length: levels }, (_, i) => o.range.ampMin + i * step);
  const frame = {
    id: "frame",
    afterDatasetsDraw(chart: any) {
      const { ctx, chartArea: a, scales } = chart;
      ctx.save();
      ctx.strokeStyle = "#666";
      ctx.lineWidth = 2.5;
      ctx.strokeRect(a.left, a.top, a.right - a.left, a.bottom - a.top);
      ctx.strokeStyle = "rgba(60,60,60,0.7)";
      scales.y.ticks.forEach((t: any) => {
        const p = scales.y.getPixelForValue(t.value);
        ctx.beginPath();
        ctx.moveTo(a.right, p);
        ctx.lineTo(a.right - 12, p);
        ctx.stroke();
      });
      ctx.fillStyle = "#222";
      ctx.font = `62px ${SERIF}`;
      ctx.textAlign = "center";
      ctx.textBaseline = "alphabetic";
      ctx.fillText("Amp [db]", (a.left + a.right) / 2 + 28, o.titleBaseline);
      ctx.restore();
    },
  };
  return new Chart(canvas, {
    type: "bar",
    data: {
      labels: ["Amp"],
      datasets: bands.map((b) => ({
        data: [[b, b + step * 1.2]],
        backgroundColor: jet(b + step / 2, o.range.ampMin, o.range.ampMax),
        grouped: false,
        barPercentage: 1,
        categoryPercentage: 1,
        borderWidth: 0,
      })),
    },
    options: {
      animation: false,
      responsive: false,
      devicePixelRatio: 1,
      layout: { padding: o.padding },
      plugins: { legend: { display: false }, tooltip: { enabled: false } },
      scales: {
        x: { display: false },
        y: {
          position: "right",
          min: o.range.ampMin,
          max: o.range.ampMax,
          afterFit(s: any) {
            s.width = o.yWidth;
            zeroPadding(s);
          },
          ticks: {
            stepSize: 10,
            includeBounds: false,
            padding: 22,
            labelOffset: 4,
            color: DARK,
            font: { family: SERIF, size: 54 },
            callback: (v: any) => String(v),
          },
          grid: { display: false, drawTicks: false },
          border: { display: false },
        },
      },
    } as any,
    plugins: [frame],
  } as any);
}

function Panel(props: { left: number; width: number; make: (c: HTMLCanvasElement) => any }) {
  const ref = useRef<HTMLCanvasElement | null>(null);
  useEffect(() => {
    const chart = props.make(ref.current as HTMLCanvasElement);
    return () => chart.destroy();
  }, []);
  return (
    <canvas
      ref={ref}
      width={props.width}
      height={1662}
      style={{ position: "absolute", left: props.left, top: 0, filter: "blur(0.9px)" }}
    />
  );
}

export default function App() {
  return (
    <div style={{ position: "fixed", left: 0, top: 0, width: 3808, height: 1662, background: "#fff", overflow: "hidden" }}>
      <Panel
        left={0}
        width={1540}
        make={(c) =>
          scatterChart(c, {
            lists: [coreA, fillA, ridgeA, upperA, outerA, farA],
            lines: [arrowLineA5, arrowLineA45],
            heads: [arrowHeadA5, arrowHeadA45],
            labels: [
              { text: "5 kHz", x: 219, y: 4.17 },
              { text: "45 kHz", x: 384, y: 1.065 },
            ],
            caption: "(a)",
            captionShift: -4,
            captionDrop: 287,
            multiplier: true,
            range: rangeA,
            xBorder: "#999",
            yWidth: 198,
            yTitlePad: 14,
            padding: { left: 0, right: 43, top: 150, bottom: 162 },
          })
        }
      />
      <Panel
        left={1960}
        width={1600}
        make={(c) =>
          scatterChart(c, {
            lists: [lowB, lowFillB, midB, midFillB, upperB, outerB],
            lines: [arrowLineB5, arrowLineB94],
            heads: [arrowHeadB5, arrowHeadB94],
            labels: [
              { text: "5 kHz", x: 25.5, y: 6587 },
              { text: "94 kHz", x: 586, y: 5660 },
            ],
            caption: "(b)",
            captionShift: 23,
            captionDrop: 286,
            multiplier: false,
            range: rangeB,
            xBorder: "#666",
            yWidth: 261,
            yTitlePad: 36,
            padding: { left: 0, right: 52, top: 148, bottom: 164 },
          })
        }
      />
      <Panel
        left={1500}
        width={340}
        make={(c) =>
          colorbarChart(c, {
            range: rangeA,
            titleBaseline: 117,
            yWidth: 150,
            padding: { left: 79, right: 41, top: 150, bottom: 341 },
          })
        }
      />
      <Panel
        left={3450}
        width={358}
        make={(c) =>
          colorbarChart(c, {
            range: rangeB,
            titleBaseline: 115,
            yWidth: 140,
            padding: { left: 139, right: 8, top: 148, bottom: 343 },
          })
        }
      />
    </div>
  );
}
